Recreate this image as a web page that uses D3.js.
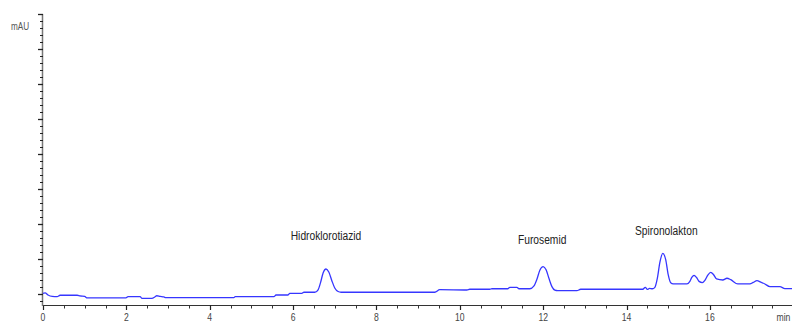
<!DOCTYPE html>
<html>
<head>
<meta charset="utf-8">
<script src="https://cdn.jsdelivr.net/npm/d3@7"></script>
<style>
  html, body { margin: 0; padding: 0; background: #fff; }
  svg { display: block; }
  .lbl { font-family: "Liberation Sans", Arial, sans-serif; }
</style>
</head>
<body>
<svg id="chart" width="792" height="323"></svg>
<script>
// Retention time (min) of each trace sample
const times = [
  0, 0.05, 0.12, 0.22, 0.34, 0.41, 0.82, 0.89, 1.0, 1.06, 1.99, 2.04, 2.33, 2.37, 2.61, 2.69, 2.73, 2.81, 2.9, 2.95,
  4.58, 4.61, 5.54, 5.59, 5.88, 5.92, 6.21, 6.26, 6.52,
  6.6, 6.66, 6.72, 6.79, 6.86, 6.93, 7.0, 7.08, 7.15,
  9.4, 9.52, 10.17, 10.24, 10.72, 10.77, 11.15, 11.2, 11.37, 11.42, 11.68,
  11.78, 11.85, 11.92, 12.0, 12.07, 12.14, 12.21, 12.28, 12.35,
  12.81, 12.9, 14.39, 14.45, 14.5, 14.55, 14.62,
  14.68, 14.74, 14.8, 14.87, 14.94, 15.0, 15.06, 15.12,
  15.45, 15.52, 15.57, 15.62, 15.68, 15.74, 15.82, 15.88, 15.95, 16.02, 16.09, 16.16,
  16.31, 16.41, 16.5, 16.67, 16.96, 17.04, 17.13, 17.22, 17.32, 17.44, 17.68, 17.8, 17.97
];

// Detector response (mAU) at each sample
const signal = [
  0.2, 0.3, -0.3, -0.7, -0.77, -0.37, -0.37, -0.57, -0.7, -1.14, -1.14, -0.77, -0.77, -1.23, -1.23, -0.8, -0.5, -0.7, -0.86, -1.06,
  -1.06, -0.77, -0.77, -0.29, -0.29, 0.2, 0.2, 0.49, 0.49,
  1.2, 3.3, 6.0, 7.14, 6.2, 3.8, 1.7, 0.7, 0.49,
  0.49, 1.23, 1.14, 1.35, 1.35, 1.5, 1.5, 1.9, 1.9, 1.5, 1.5,
  2.3, 4.2, 6.8, 7.8, 6.9, 4.4, 2.1, 1.1, 0.95,
  0.94, 1.35, 1.35, 1.9, 1.3, 1.6, 1.5,
  1.9, 4.5, 9.0, 11.6, 9.8, 5.5, 3.2, 2.9,
  2.86, 3.6, 4.8, 5.34, 4.7, 3.6, 3.23, 3.9, 5.4, 6.2, 5.5, 4.29,
  4.0, 4.49, 4.1, 2.86, 2.86, 3.3, 3.8, 3.4, 2.86, 2.09, 2.09, 1.51, 1.51
];

// Identified compounds and their apex retention times
const peakNames = ["Hidroklorotiazid", "Furosemid", "Spironolakton"];
const peakTimes = [6.79, 12.0, 14.87];
const peakHeights = [7.14, 7.8, 11.6];

// Axis ticks
const xTickValues = [0, 2, 4, 6, 8, 10, 12, 14, 16];
const xTickLabels = ["0", "2", "4", "6", "8", "10", "12", "14", "16"];
const yMajorTicks = [0, 10, 20, 30, 40, 50, 60, 70, 80];

const layout = {
  left: 43, right: 792, top: 14, bottom: 305,
  labelRise: [32, 26, 22],
  labelShift: [0, -1, 3.5],
  narrow: 0.82
};

const svg = d3.select("#chart");

const x = d3.scaleLinear().domain([0, 17.97]).range([layout.left, layout.right]);
const y = d3.scaleLinear().domain([-3.15, 80]).range([layout.bottom, layout.top]);

const points = times.map((t, i) => ({ t, v: signal[i] }));

// Condensed text: place a group at (px, py) and squeeze it horizontally
function narrowText(sel, px, py) {
  return sel.attr("transform", (d, i) =>
    `translate(${px(d, i)},${py(d, i)}) scale(${layout.narrow},1)`);
}

// X axis: major ticks every 2 min, minor every 0.5 min
const xMinor = d3.range(0, 18.01, 0.5).filter(v => !xTickValues.includes(v));
const xAxisG = svg.append("g");
xAxisG.append("line")
  .attr("x1", layout.left - 1).attr("x2", layout.right)
  .attr("y1", layout.bottom + 0.5).attr("y2", layout.bottom + 0.5)
  .attr("stroke", "#333").attr("stroke-width", 1.2);
xAxisG.selectAll(".xminor").data(xMinor).join("line")
  .attr("x1", d => Math.round(x(d)) + 0.5).attr("x2", d => Math.round(x(d)) + 0.5)
  .attr("y1", layout.bottom).attr("y2", layout.bottom + 3.5)
  .attr("stroke", "#333").attr("stroke-width", 1);
xAxisG.selectAll(".xmajor").data(xTickValues).join("line")
  .attr("x1", d => Math.round(x(d)) + 0.5).attr("x2", d => Math.round(x(d)) + 0.5)
  .attr("y1", layout.bottom).attr("y2", layout.bottom + 5)
  .attr("stroke", "#222").attr("stroke-width", 1.2);
xAxisG.selectAll(".xlab").data(xTickValues).join("text")
  .attr("class", "lbl")
  .call(narrowText, d => x(d), () => 321)
  .attr("text-anchor", "middle")
  .attr("font-size", 10.5).attr("fill", "#444")
  .text((d, i) => xTickLabels[i]);
xAxisG.append("text")
  .datum("min")
  .attr("class", "lbl")
  .call(narrowText, () => 776.5, () => 321)
  .attr("font-size", 10.5).attr("fill", "#444")
  .text(d => d);

// Y axis: unlabeled major ticks with four minor ticks between
const yMinor = d3.range(-2, 80, 2).filter(v => !yMajorTicks.includes(v));
const yAxisG = svg.append("g");
yAxisG.append("line")
  .attr("x1", layout.left - 0.5).attr("x2", layout.left - 0.5)
  .attr("y1", layout.top).attr("y2", layout.bottom + 1)
  .attr("stroke", "#777").attr("stroke-width", 1.5);
yAxisG.selectAll(".yminor").data(yMinor).join("line")
  .attr("x1", layout.left - 3).attr("x2", layout.left)
  .attr("y1", d => Math.round(y(d)) + 0.5).attr("y2", d => Math.round(y(d)) + 0.5)
  .attr("stroke", "#222").attr("stroke-width", 1);
yAxisG.selectAll(".ymajor").data(yMajorTicks).join("line")
  .attr("x1", layout.left - 5).attr("x2", layout.left)
  .attr("y1", d => Math.round(y(d)) + 0.5).attr("y2", d => Math.round(y(d)) + 0.5)
  .attr("stroke", "#222").attr("stroke-width", 1.3);
yAxisG.append("text")
  .datum("mAU")
  .attr("class", "lbl")
  .call(narrowText, () => 11, () => 29.5)
  .attr("font-size", 10).attr("fill", "#555")
  .text(d => d);

// Chromatogram trace
const line = d3.line()
  .x(d => x(d.t))
  .y(d => y(d.v))
  .curve(d3.curveMonotoneX);

svg.append("path")
  .datum(points)
  .attr("d", line)
  .attr("fill", "none")
  .attr("stroke", "#3636ff")
  .attr("stroke-width", 1.3)
  .attr("stroke-linejoin", "round");

// Compound labels above each peak
svg.selectAll(".peaklabel").data(peakNames).join("text")
  .attr("class", "lbl")
  .call(narrowText,
    (d, i) => x(peakTimes[i]) + layout.labelShift[i],
    (d, i) => y(peakHeights[i]) - layout.labelRise[i])
  .attr("text-anchor", "middle")
  .attr("dominant-baseline", "middle")
  .attr("font-size", 12.5)
  .attr("fill", "#222")
  .text(d => d);
</script>
</body>
</html>
